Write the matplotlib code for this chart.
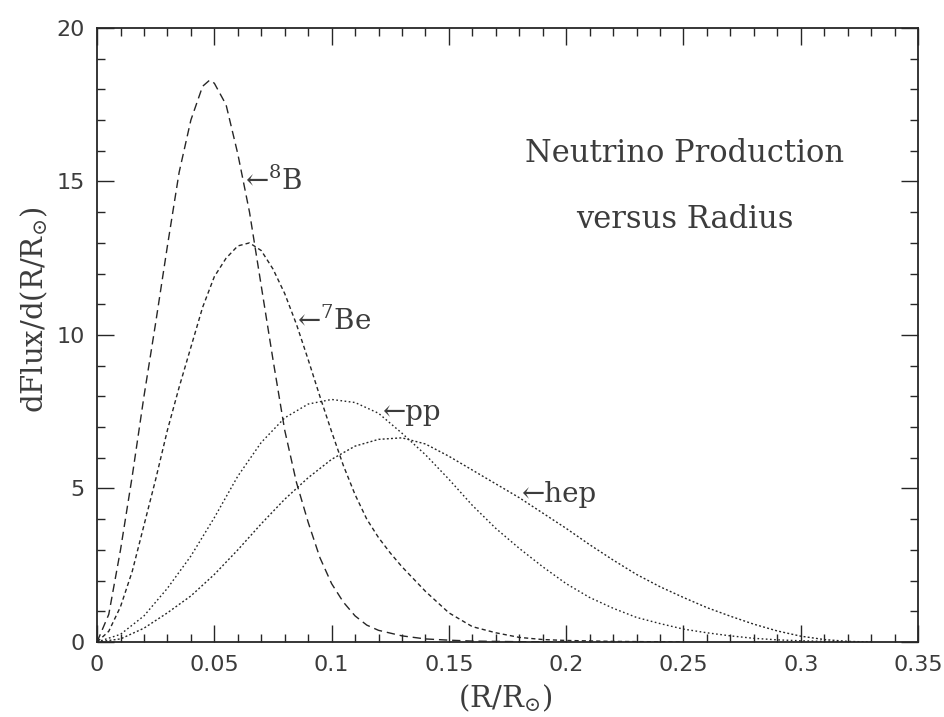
import matplotlib
matplotlib.use("Agg")
import matplotlib.pyplot as plt
from matplotlib.ticker import MultipleLocator

# ---- data ----
x_b8 = [0, 0.005, 0.01, 0.015, 0.02, 0.025, 0.03, 0.035, 0.04, 0.045, 0.048, 0.05,
        0.055, 0.06, 0.065, 0.07, 0.075, 0.08, 0.085, 0.09, 0.095, 0.1, 0.105, 0.11,
        0.115, 0.12, 0.13, 0.14, 0.15, 0.16, 0.18, 0.2]
y_b8 = [0, 0.9, 3.0, 5.4, 8.0, 10.4, 12.9, 15.3, 17.0, 18.1, 18.3, 18.2,
        17.5, 15.9, 14.0, 11.6, 9.2, 6.9, 5.2, 3.9, 2.75, 1.9, 1.3, 0.85,
        0.55, 0.38, 0.2, 0.1, 0.06, 0.03, 0.01, 0.0]

x_be7 = [0, 0.005, 0.01, 0.015, 0.02, 0.025, 0.03, 0.035, 0.04, 0.045, 0.05, 0.055,
         0.06, 0.065, 0.07, 0.075, 0.08, 0.085, 0.09, 0.095, 0.1, 0.105, 0.11, 0.115,
         0.12, 0.125, 0.13, 0.14, 0.15, 0.16, 0.17, 0.18, 0.19, 0.2, 0.22, 0.25]
y_be7 = [0, 0.35, 1.15, 2.3, 3.8, 5.3, 6.9, 8.3, 9.6, 10.9, 11.9, 12.5,
         12.9, 13.0, 12.75, 12.15, 11.35, 10.35, 9.2, 8.0, 6.85, 5.75, 4.8, 4.0,
         3.4, 2.9, 2.45, 1.65, 0.95, 0.5, 0.3, 0.15, 0.08, 0.05, 0.02, 0.0]

x_pp = [0, 0.01, 0.02, 0.03, 0.04, 0.05, 0.06, 0.07, 0.08, 0.09, 0.1, 0.11, 0.12,
        0.13, 0.14, 0.15, 0.16, 0.17, 0.18, 0.19, 0.2, 0.21, 0.22, 0.23, 0.24, 0.25,
        0.26, 0.27, 0.28, 0.29, 0.3, 0.31, 0.32]
y_pp = [0, 0.25, 0.85, 1.75, 2.8, 4.05, 5.4, 6.5, 7.3, 7.75, 7.9, 7.8, 7.45,
        6.8, 6.1, 5.3, 4.45, 3.7, 3.05, 2.45, 1.9, 1.45, 1.1, 0.8, 0.6, 0.42,
        0.3, 0.2, 0.12, 0.07, 0.04, 0.02, 0.0]

x_hep = [0, 0.01, 0.02, 0.03, 0.04, 0.05, 0.06, 0.07, 0.08, 0.09, 0.1, 0.11, 0.12,
         0.13, 0.14, 0.15, 0.16, 0.17, 0.18, 0.19, 0.2, 0.21, 0.22, 0.23, 0.24, 0.25,
         0.26, 0.27, 0.28, 0.29, 0.3, 0.31, 0.32, 0.33]
y_hep = [0, 0.1, 0.45, 0.95, 1.5, 2.2, 3.0, 3.85, 4.65, 5.35, 5.95, 6.38, 6.6,
         6.65, 6.45, 6.05, 5.6, 5.15, 4.7, 4.2, 3.7, 3.17, 2.67, 2.2, 1.8, 1.45,
         1.12, 0.84, 0.58, 0.36, 0.19, 0.08, 0.02, 0.0]

x_ticks = [0, 0.05, 0.1, 0.15, 0.2, 0.25, 0.3, 0.35]
x_ticklabels = ["0", "0.05", "0.1", "0.15", "0.2", "0.25", "0.3", "0.35"]
y_ticks = [0, 5, 10, 15, 20]
y_ticklabels = ["0", "5", "10", "15", "20"]

# ---- figure ----
plt.rcParams['mathtext.fontset'] = 'dejavuserif'
ink = '#262626'
txt = '#3c3c3c'
serif = ['DejaVu Serif']

fig = plt.figure(figsize=(9.44, 7.17), dpi=100)
ax = fig.add_axes([0.1028, 0.1046, 0.9725 - 0.1028, 0.961 - 0.1046])

ax.plot(x_b8, y_b8, color=ink, lw=1.0, linestyle=(0, (6, 3.5)))
ax.plot(x_be7, y_be7, color=ink, lw=1.0, linestyle=(0, (3, 2.2)))
ax.plot(x_pp, y_pp, color=ink, lw=1.0, linestyle=(0, (1.2, 1.8)))
ax.plot(x_hep, y_hep, color=ink, lw=1.0, linestyle=(0, (1.4, 1.6)))

ax.set_xlim(0, 0.35)
ax.set_ylim(0, 20)
ax.set_xticks(x_ticks)
ax.set_xticklabels(x_ticklabels)
ax.set_yticks(y_ticks)
ax.set_yticklabels(y_ticklabels)
ax.xaxis.set_minor_locator(MultipleLocator(0.01))
ax.yaxis.set_minor_locator(MultipleLocator(1))
ax.tick_params(which='both', direction='in', top=True, right=True, colors=ink,
               labelcolor=txt, width=1.0)
ax.tick_params(which='major', length=12, labelsize=16, pad=9)
ax.tick_params(which='minor', length=6)
for lab in ax.get_xticklabels() + ax.get_yticklabels():
    lab.set_family(['DejaVu Sans'])
for sp in ax.spines.values():
    sp.set_color(ink)
    sp.set_linewidth(1.3)

# curve labels
lab_kw = dict(family=serif, fontsize=20, color=txt, va='baseline', ha='left')
ax.text(0.063, 14.72, "\u2190$^{8}$B", **lab_kw)
ax.text(0.0853, 10.16, "\u2190$^{7}$Be", **lab_kw)
ax.text(0.122, 7.23, "\u2190pp", **lab_kw)
ax.text(0.181, 4.56, "\u2190hep", **lab_kw)

# in-plot title
ax.text(0.2506, 15.63, "Neutrino Production", family=serif, fontsize=22, color=txt,
        ha='center', va='baseline')
ax.text(0.2506, 13.49, "versus Radius", family=serif, fontsize=22, color=txt,
        ha='center', va='baseline')

# axis titles
fig.text(0.036, 0.5676, r"dFlux/d(R/R$_{\odot}$)", family=serif, fontsize=21, color=txt,
         rotation=90, ha='center', va='center')
fig.text(0.535, 0.0265, r"(R/R$_{\odot}$)", family=serif, fontsize=21, color=txt,
         ha='center', va='center')

fig.savefig("out.png", dpi=100, facecolor='white')
